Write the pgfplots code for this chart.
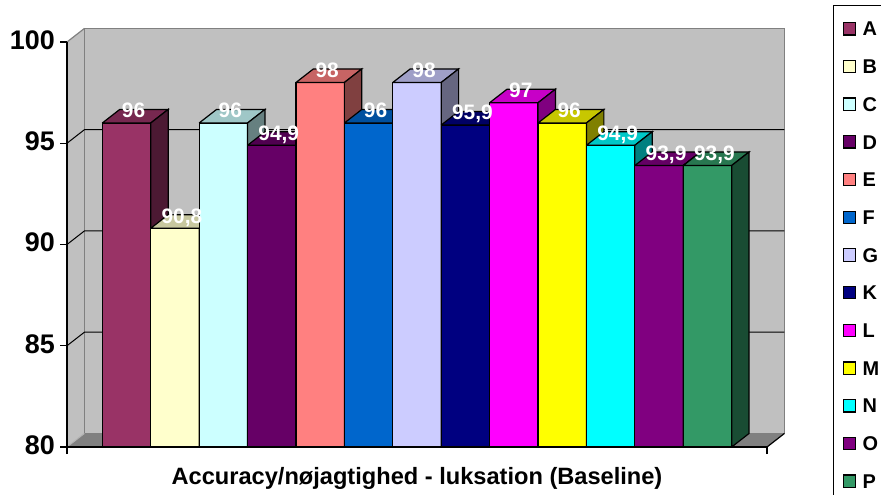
\documentclass[border=0pt]{standalone}
\usepackage{pgfplots}
\pgfplotsset{compat=1.18}
\usepackage{fontspec}
\setmainfont{Liberation Sans}

\definecolor{cA}{HTML}{993366}
\definecolor{cB}{HTML}{FFFFCC}
\definecolor{cC}{HTML}{CCFFFF}
\definecolor{cD}{HTML}{660066}
\definecolor{cE}{HTML}{FF8080}
\definecolor{cF}{HTML}{0066CC}
\definecolor{cG}{HTML}{CCCCFF}
\definecolor{cK}{HTML}{000080}
\definecolor{cL}{HTML}{FF00FF}
\definecolor{cM}{HTML}{FFFF00}
\definecolor{cN}{HTML}{00FFFF}
\definecolor{cO}{HTML}{800080}
\definecolor{cP}{HTML}{339966}
\definecolor{wall}{HTML}{C0C0C0}
\definecolor{floorc}{HTML}{808080}
\definecolor{edge}{HTML}{808080}

% One 3-D column: front face, top face and right side face.
% Depth offset in axis units: dx = 0.36, dy = 0.67.
% #1 = category position, #2 = value, #3 = colour
\newcommand\colbar[3]{%
  \addplot[fill=#3, draw=black, line width=1.2bp]
    table[row sep=\\, x expr=\thisrow{u}+#1, y expr=\thisrow{a}*#2+\thisrow{b}]
    {u a b\\ -0.5 0 80\\ 0.5 0 80\\ 0.5 1 0\\ -0.5 1 0\\ -0.5 0 80\\};
  \addplot[forget plot, fill=#3!78!black, draw=black, line width=1.2bp]
    table[row sep=\\, x expr=\thisrow{u}+#1, y expr=\thisrow{a}*#2+\thisrow{b}]
    {u a b\\ -0.5 1 0\\ 0.5 1 0\\ 0.86 1 0.67\\ -0.14 1 0.67\\ -0.5 1 0\\};
  \addplot[forget plot, fill=#3!50!black, draw=black, line width=1.2bp]
    table[row sep=\\, x expr=\thisrow{u}+#1, y expr=\thisrow{a}*#2+\thisrow{b}]
    {u a b\\ 0.5 0 80\\ 0.5 1 0\\ 0.86 1 0.67\\ 0.86 0 80.67\\ 0.5 0 80\\};
}

\begin{document}
\begin{tikzpicture}
\useasboundingbox (0,0) rectangle (881bp,495bp);
\begin{axis}[
  at={(67bp,48bp)}, anchor=south west,
  scale only axis, width=700bp, height=405bp,
  xmin=-1.23, xmax=13.23, ymin=80, ymax=100,
  clip=false, axis on top,
  axis x line*=bottom, axis y line*=left,
  axis line style={black, line width=1.3bp},
  xtick={-1.23,13.23}, xticklabels={,},
  ytick={80,85,90,95,100},
  tick align=outside, major tick length=7bp,
  tick style={black, line width=1.2bp},
  /pgf/number format/use comma,
  /pgf/number format/assume math mode=true,
  yticklabel style={font=\fontsize{27}{27}\selectfont\bfseries, inner xsep=5bp, yshift=2bp},
  xlabel={Accuracy/nøjagtighed - luksation (Baseline)},
  xlabel style={font=\fontsize{23.7}{23.7}\selectfont\bfseries, at={(axis description cs:0.5,0)}, anchor=base, yshift=-37bp},
  legend image code/.code={\draw[#1, draw=black, line width=1.2bp] (0bp,-6.15bp) rectangle (12.3bp,6.15bp);},
  legend style={at={(axis description cs:1.0943,1.0914)}, anchor=north west,
    draw=black, line width=1.3bp, fill=white,
    font=\fontsize{20}{20}\selectfont\bfseries,
    inner xsep=9bp, inner ysep=16bp, row sep=23.4bp, column sep=6.5bp,
    nodes={inner sep=0pt, text height=14.3bp, text depth=0pt},
    cells={anchor=west}},
]
% side wall, back wall and floor
\addplot[forget plot, fill=wall, draw=none] coordinates {(-1.23,80) (-1.23,100) (-0.87,100.67) (-0.87,80.67)};
\addplot[forget plot, fill=wall, draw=edge, line width=1.2bp] coordinates {(-0.87,80.67) (13.59,80.67) (13.59,100.67) (-0.87,100.67) (-0.87,80.67)};
\addplot[forget plot, draw=edge, line width=1.2bp] coordinates {(-1.23,100) (-0.87,100.67)};
\addplot[forget plot, fill=floorc, draw=none] coordinates {(-1.23,80) (13.23,80) (13.59,80.67) (-0.87,80.67)};
\addplot[forget plot, draw=edge!60!white, line width=1bp] coordinates {(-1.23,80) (-0.87,80.67)};
\addplot[forget plot, draw=black, line width=1.2bp] coordinates {(13.23,80) (13.59,80.67)};
% grid lines on the walls
\addplot[forget plot, black, line width=1bp] coordinates {(-1.23,85) (-0.87,85.67) (13.59,85.67)};
\addplot[forget plot, black, line width=1bp] coordinates {(-1.23,90) (-0.87,90.67) (13.59,90.67)};
\addplot[forget plot, black, line width=1bp] coordinates {(-1.23,95) (-0.87,95.67) (13.59,95.67)};

% columns
\colbar{0}{96}{cA}
\colbar{1}{90.8}{cB}
\colbar{2}{96}{cC}
\colbar{3}{94.9}{cD}
\colbar{4}{98}{cE}
\colbar{5}{96}{cF}
\colbar{6}{98}{cG}
\colbar{7}{95.9}{cK}
\colbar{8}{97}{cL}
\colbar{9}{96}{cM}
\colbar{10}{94.9}{cN}
\colbar{11}{93.9}{cO}
\colbar{12}{93.9}{cP}

% value labels
\addplot[forget plot, draw=none, mark=none, point meta=y, nodes near coords,
  every node near coord/.append style={font=\fontsize{21}{21}\selectfont\bfseries, text=white,
    anchor=south, inner sep=0pt, text depth=0pt, xshift=7bp, yshift=5bp}]
  coordinates {(0,96) (1,90.8) (2,96) (3,94.9) (4,98) (5,96) (6,98) (7,95.9) (8,97) (9,96) (10,94.9) (11,93.9) (12,93.9)};

\legend{A,B,C,D,E,F,G,K,L,M,N,O,P}
\end{axis}
\end{tikzpicture}
\end{document}
